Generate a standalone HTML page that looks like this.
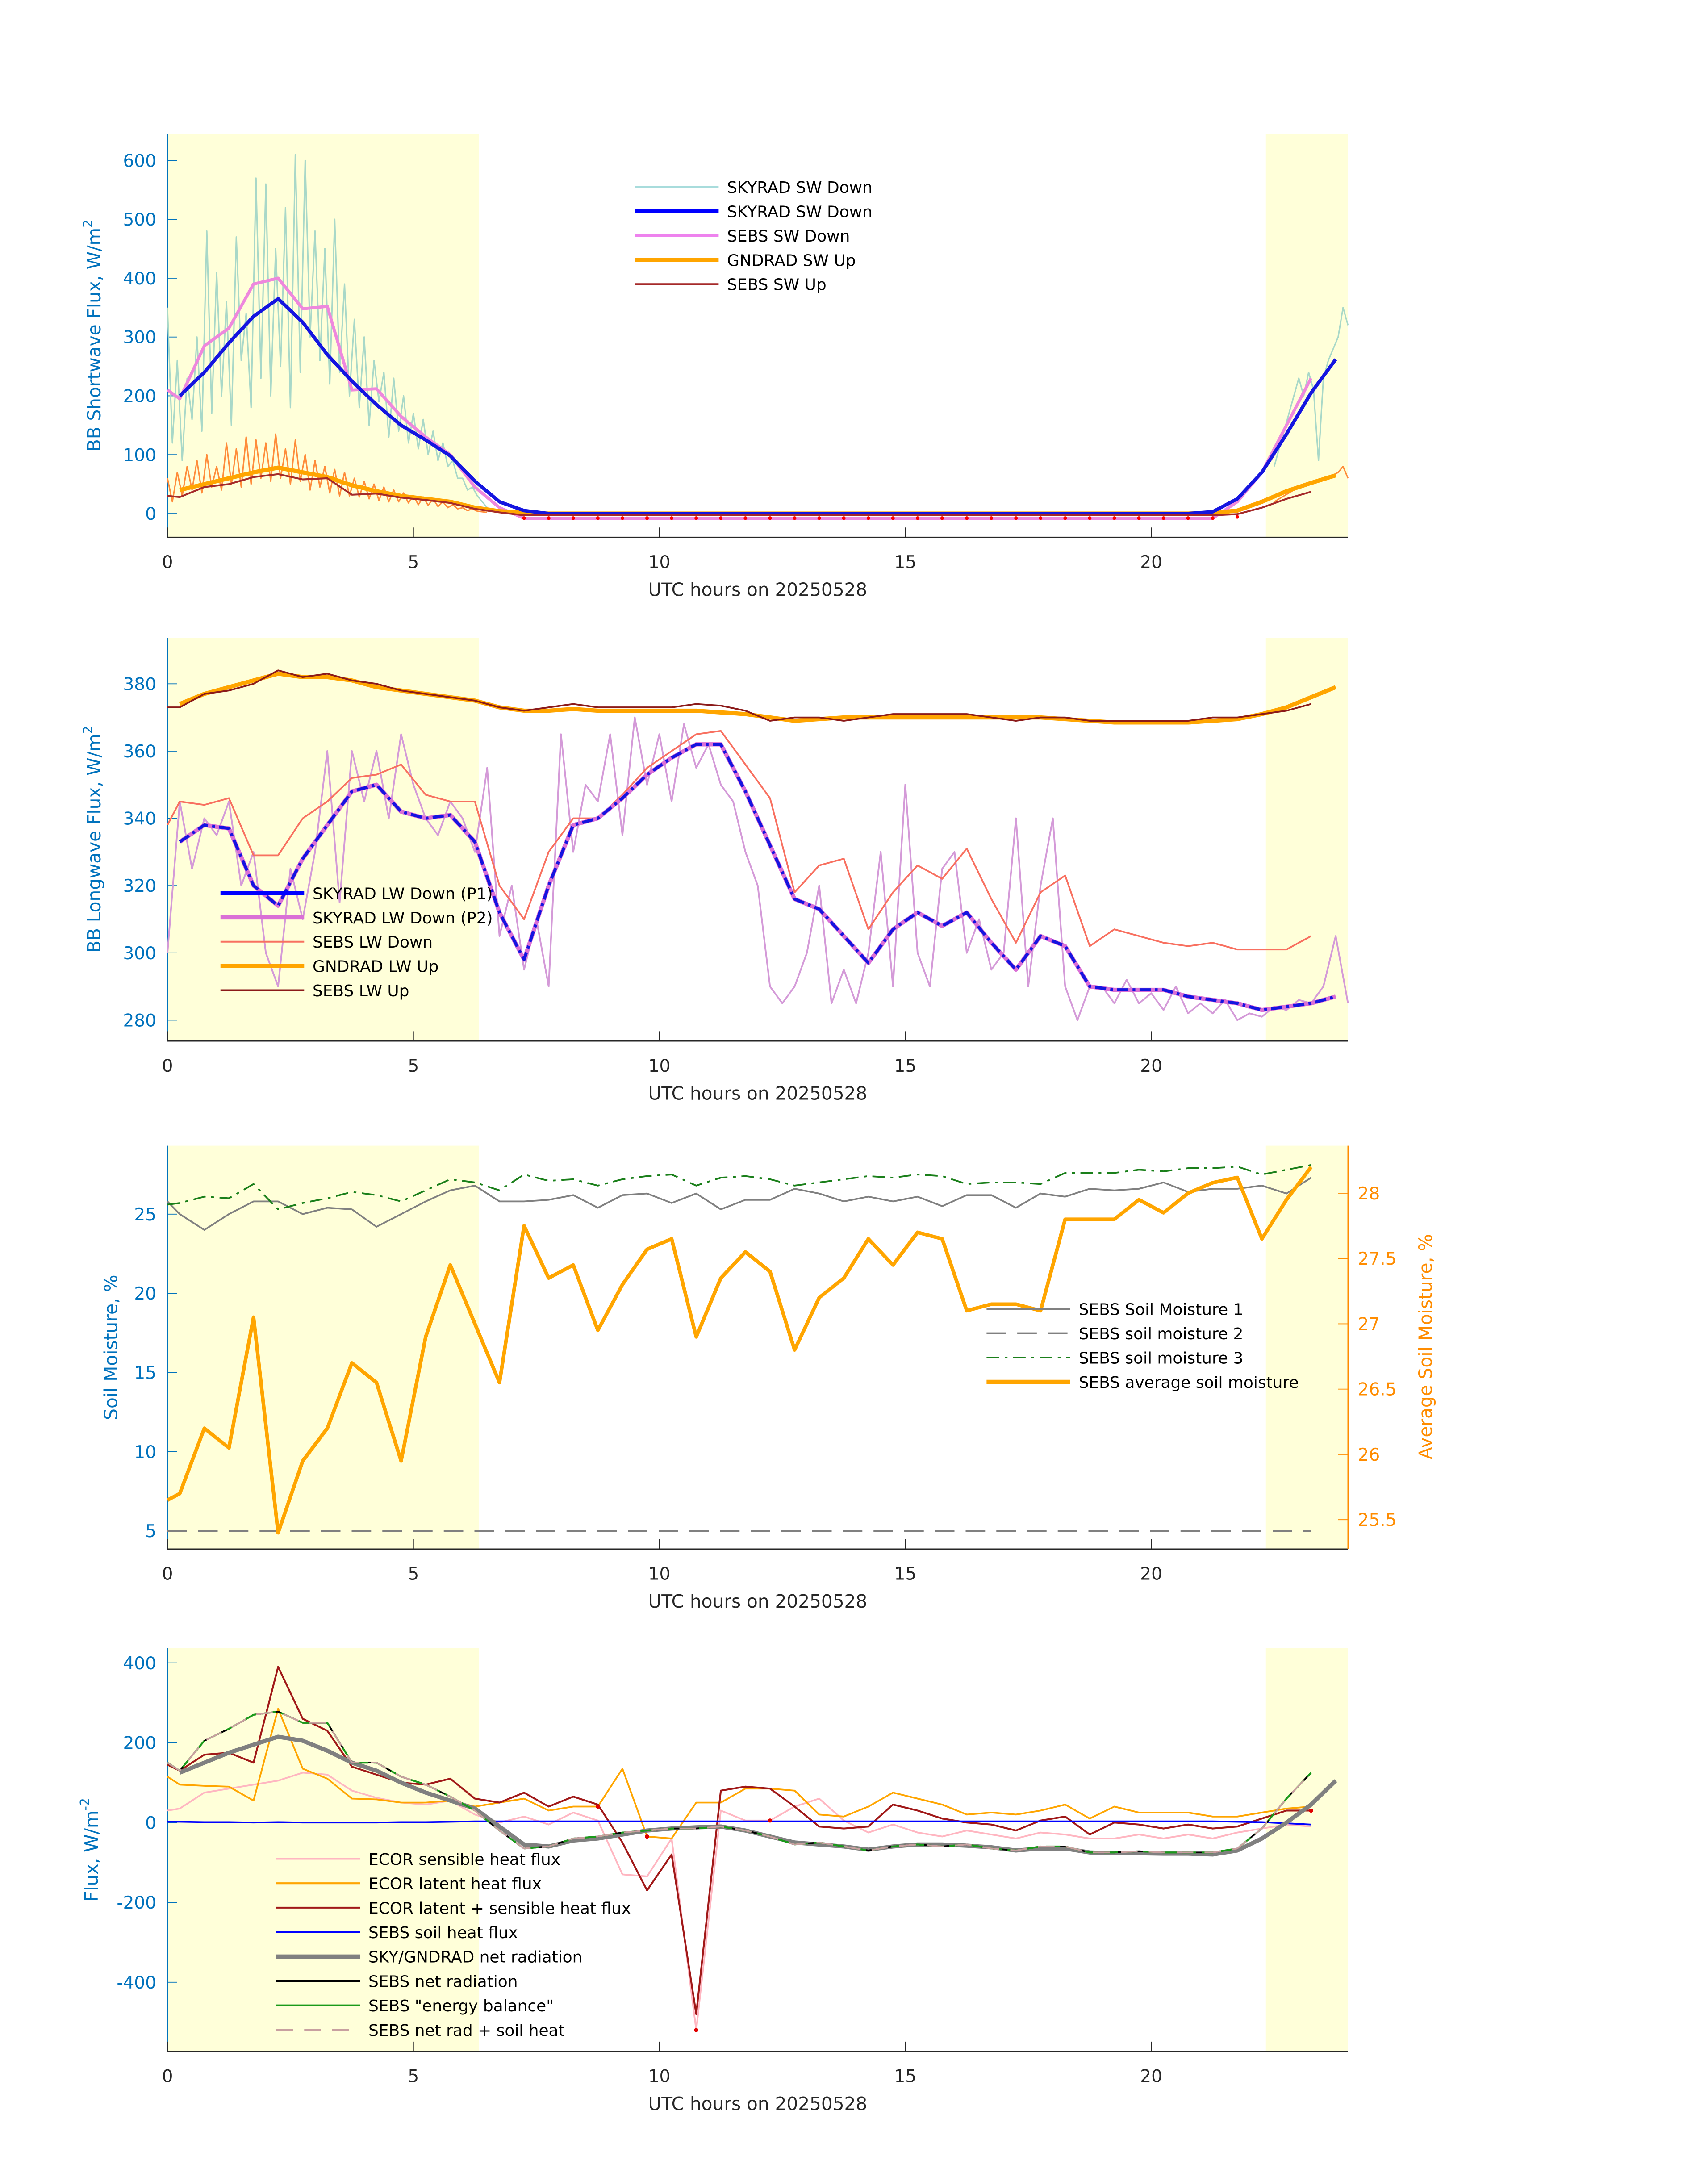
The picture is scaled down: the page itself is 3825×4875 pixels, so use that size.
<!DOCTYPE html>
<html><head><meta charset="utf-8">
<style>
html,body{margin:0;padding:0;background:#fff;}
svg{display:block;font-family:"DejaVu Sans","Liberation Sans",sans-serif;}
</style></head>
<body>
<svg id="chart" width="3825" height="4875" viewBox="0 0 1224 1560" xmlns="http://www.w3.org/2000/svg"></svg>
<script>
// ---------- data ----------
const halfT = [];
for (let k = 0; k < 48; k++) halfT.push(0.25 + 0.5 * k);
const p3T = [0].concat(halfT.slice(0, 47));
const N = null;
// Panel 1
const swDown = [200,240,290,335,365,325,270,225,185,150,125,98,55,20,5,0,0,0,0,0,0,0,0,0,0,0,0,0,0,0,0,0,0,0,0,0,0,0,0,0,0,0,3,25,70,135,205,262];
const sebsSwDown = [195,285,315,390,400,348,352,210,212,165,130,100,45,10,-8,-8,-8,-8,-8,-8,-8,-8,-8,-8,-8,-8,-8,-8,-8,-8,-8,-8,-8,-8,-8,-8,-8,-8,-8,-8,-8,-8,-8,20,70,150,230,N];
const gndSwUp = [40,50,60,70,78,70,62,48,38,30,25,20,10,4,1,0,0,0,0,0,0,0,0,0,0,0,0,0,0,0,0,0,0,0,0,0,0,0,0,0,0,0,1,5,20,38,52,65];
const sebsSwUp = [28,45,50,62,67,58,60,32,34,27,23,18,8,2,-3,-3,-3,-3,-3,-3,-3,-3,-3,-3,-3,-3,-3,-3,-3,-3,-3,-3,-3,-3,-3,-3,-3,-3,-3,-3,-3,-3,-3,-1,10,25,37,N];
const rawSwDown = [350,120,260,90,230,160,300,140,480,170,410,200,360,150,470,260,340,180,570,230,560,200,450,250,520,180,610,240,600,300,480,260,450,220,500,240,390,200,330,180,300,150,260,190,240,130,230,140,200,120,170,110,160,100,140,90,120,80,90,60,60,40,45,30,20,10];
const rawSwDownLate = [80,110,140,170,200,230,200,240,210,90,230,260,280,300,350,320];
const rawSwUp = [60,20,70,30,80,40,90,35,100,45,80,40,120,50,110,45,130,50,125,60,120,55,135,60,110,50,125,55,100,40,90,45,80,35,75,30,70,30,60,28,55,25,50,22,45,20,40,20,35,18,30,15,28,14,25,12,20,10,15,8,10,5,8,4,3,2];
const rawSwUpLate = [20,25,30,35,40,45,50,52,55,58,60,62,65,70,80,60];
// Panel 2
const lwDownP1 = [333,338,337,320,314,328,338,348,350,342,340,341,333,312,298,320,338,340,346,353,358,362,362,348,332,316,313,305,297,307,312,308,312,303,295,305,302,290,289,289,289,287,286,285,283,284,285,287];
const sebsLwDown = [345,344,346,329,329,340,345,352,353,356,347,345,345,320,310,330,340,340,347,355,360,365,366,356,346,318,326,328,307,318,326,322,331,316,303,318,323,302,307,305,303,302,303,301,301,301,305,N];
const gndLwUp = [374,377,379,381,383,382,382,381,379,378,377,376,375,373,372,372,372.5,372,372,372,372,372,371.5,371,370,369,369.5,370,370,370,370,370,370,370,370,370,369.5,369,368.5,368.5,368.5,368.5,369,369.5,371,373,376,379];
const sebsLwUp = [373,377,378,380,384,382,383,381,380,378,377,376,375,373,372,373,374,373,373,373,373,374,373.5,372,369,370,370,369,370,371,371,371,371,370,369,370,370,369,369,369,369,369,370,370,371,372,374,N];
const rawLwDown = [300,345,325,340,335,345,320,330,300,290,325,310,330,360,315,360,345,360,340,365,350,340,335,345,340,330,355,305,320,295,310,290,365,330,350,345,365,335,370,350,365,345,368,355,362,350,345,330,320,290,285,290,300,320,285,295,285,300,330,290,350,300,290,325,330,300,310,295,300,340,290,320,340,290,280,290,290,285,292,285,288,283,290,282,285,282,286,280,282,281,284,283,286,285,290,305,285];
// Panel 3
const sm1 = [25.8,25.0,24.0,25.0,25.8,25.8,25.0,25.4,25.3,24.2,25.0,25.8,26.5,26.8,25.8,25.8,25.9,26.2,25.4,26.2,26.3,25.7,26.3,25.3,25.9,25.9,26.6,26.3,25.8,26.1,25.8,26.1,25.5,26.2,26.2,25.4,26.3,26.1,26.6,26.5,26.6,27.0,26.4,26.6,26.6,26.8,26.3,27.3];
const sm2 = [5,5,5,5,5,5,5,5,5,5,5,5,5,5,5,5,5,5,5,5,5,5,5,5,5,5,5,5,5,5,5,5,5,5,5,5,5,5,5,5,5,5,5,5,5,5,5,5];
const sm3 = [25.6,25.7,26.1,26.0,26.9,25.3,25.7,26.0,26.4,26.2,25.8,26.5,27.2,27.0,26.5,27.5,27.1,27.2,26.8,27.2,27.4,27.5,26.8,27.3,27.4,27.2,26.8,27.0,27.2,27.4,27.3,27.5,27.4,26.9,27.0,27.0,26.9,27.6,27.6,27.6,27.8,27.7,27.9,27.9,28.0,27.5,27.8,28.1];
const smAvg = [25.65,25.7,26.2,26.05,27.05,25.4,25.95,26.2,26.7,26.55,25.95,26.9,27.45,27.0,26.55,27.75,27.35,27.45,26.95,27.3,27.57,27.65,26.9,27.35,27.55,27.4,26.8,27.2,27.35,27.65,27.45,27.7,27.65,27.1,27.15,27.15,27.1,27.8,27.8,27.8,27.95,27.85,28.0,28.08,28.12,27.65,27.95,28.2];
// Panel 4
const ecorSens = [30,35,75,85,95,105,125,120,80,62,50,45,55,20,0,15,-5,25,5,-130,-135,-40,-520,30,5,5,40,60,5,-25,-5,-25,-35,-20,-30,-40,-25,-30,-40,-40,-30,-40,-30,-40,-25,-15,-5,-10];
const ecorLat = [115,95,92,90,55,285,135,110,60,58,50,50,55,40,50,60,30,40,40,135,-35,-40,50,50,85,85,80,20,15,40,75,60,45,20,25,20,30,45,10,40,25,25,25,15,15,25,35,40];
const ecorSum = [145,130,170,175,150,390,260,230,140,120,100,95,110,60,50,75,40,65,45,-50,-170,-80,-480,80,90,85,40,-10,-15,-10,45,30,10,0,-5,-20,5,15,-30,0,-5,-15,-5,-15,-10,10,30,30];
const soilHeat = [2,2,1,1,0,1,0,0,0,0,1,1,2,3,3,3,3,3,3,3,3,3,3,3,3,3,3,3,3,3,3,3,3,3,3,3,3,3,3,3,3,3,3,3,2,1,-2,-5];
const netRadSky = [125,150,175,195,215,205,180,150,130,100,75,55,35,-10,-55,-60,-45,-40,-30,-20,-15,-12,-10,-20,-35,-50,-55,-60,-68,-60,-55,-55,-58,-62,-70,-65,-65,-75,-77,-77,-78,-78,-80,-70,-40,0,45,105];
const netRadSebs = [150,130,205,235,270,278,250,250,150,150,115,95,65,30,-20,-65,-60,-40,-35,-25,-20,-15,-15,-10,-20,-35,-55,-50,-60,-70,-60,-55,-60,-55,-65,-70,-60,-60,-75,-75,-72,-75,-75,-75,-65,-15,60,125];

// ---------- helpers ----------
const svg = document.getElementById('chart');
const NS = 'http://www.w3.org/2000/svg';
function mk(tag, attrs, parent) {
  const e = document.createElementNS(NS, tag);
  for (const k in attrs) e.setAttribute(k, attrs[k]);
  (parent || svg).appendChild(e);
  return e;
}
const X0 = 120, X1 = 966;
function xs(t) { return X0 + t * (X1 - X0) / 24; }
function pathFrom(ts, vs, yf) {
  let d = '', pen = false;
  for (let i = 0; i < vs.length; i++) {
    if (vs[i] === null || vs[i] === undefined) { pen = false; continue; }
    d += (pen ? 'L' : 'M') + xs(ts[i]).toFixed(2) + ',' + yf(vs[i]).toFixed(2);
    pen = true;
  }
  return d;
}
function stepT(t0, dt, n) { const a = []; for (let i = 0; i < n; i++) a.push(t0 + i * dt); return a; }
function line(ts, vs, yf, color, w, name, dash) {
  const p = mk('path', {d: pathFrom(ts, vs, yf), fill: 'none', stroke: color, 'stroke-width': w, 'stroke-linejoin': 'round'});
  if (dash) p.setAttribute('stroke-dasharray', dash);
  
  
  return p;
}
const BLUE = '#0072BD';
function panel(top, bot, yf, ticks, tickFmt, ylabel, pname) {
  const g = mk('g', {});
  
  
  const s1 = mk('rect', {x: X0, y: top, width: xs(6.33) - X0, height: bot - top, fill: '#FFFFD9'}, g);
  
  
  const s2 = mk('rect', {x: xs(22.33), y: top, width: X1 - xs(22.33), height: bot - top, fill: '#FFFFD9'}, g);
  
  
  const la = mk('line', {x1: X0, y1: top, x2: X0, y2: bot, stroke: BLUE, 'stroke-width': 0.8}, g);
  
  
  const ba = mk('line', {x1: X0, y1: bot, x2: X1, y2: bot, stroke: '#262626', 'stroke-width': 0.8}, g);
  
  
  for (const v of ticks) {
    const y = yf(v);
    mk('line', {x1: X0, y1: y, x2: X0 + 7, y2: y, stroke: BLUE, 'stroke-width': 0.6}, g);
    const t = mk('text', {x: X0 - 8, y: y + 4.5, 'text-anchor': 'end', 'font-size': 12.5, fill: BLUE}, g);
    t.textContent = tickFmt(v);
    
    
  }
  for (const h of [0, 5, 10, 15, 20]) {
    mk('line', {x1: xs(h), y1: bot, x2: xs(h), y2: bot - 7, stroke: '#262626', 'stroke-width': 0.6}, g);
    const t = mk('text', {x: xs(h), y: bot + 22, 'text-anchor': 'middle', 'font-size': 12.5, fill: '#262626'}, g);
    t.textContent = String(h);
    
    
  }
  const xl = mk('text', {x: 543, y: bot + 42, 'text-anchor': 'middle', 'font-size': 13, fill: '#262626'}, g);
  xl.textContent = 'UTC hours on 20250528';
  
  
  const cy = (top + bot) / 2;
  const yl = mk('text', {x: 0, y: 0, transform: 'translate(' + ylabel[1] + ',' + cy + ') rotate(-90)', 'text-anchor': 'middle', 'font-size': 13, fill: BLUE}, g);
  yl.innerHTML = ylabel[0];
  
  
  return g;
}
function legend(x, y0, dy, entries, name) {
  const g = mk('g', {});
  
  
  entries.forEach((e, i) => {
    const y = y0 + i * dy;
    const l = mk('line', {x1: x, y1: y, x2: x + 60, y2: y, stroke: e[1], 'stroke-width': e[2]}, g);
    if (e[3]) l.setAttribute('stroke-dasharray', e[3]);
    
    
    const t = mk('text', {x: x + 66, y: y + 4.3, 'font-size': 11.5, fill: '#000'}, g);
    t.textContent = e[0];
    
    
  });
}

// ---------- Panel 1 ----------
const y1 = v => 368 - v * 0.4217;
panel(96, 385, y1, [0,100,200,300,400,500,600], v => String(v), ['BB Shortwave Flux, W/m<tspan dy="-6" font-size="9">2</tspan>', 72], 'shortwave-panel');
line(stepT(0, 0.1, 66), rawSwDown, y1, '#A8D8C8', 1, 'skyrad-sw-down-raw');
line(stepT(22.5, 0.1, 16), rawSwDownLate, y1, '#A8D8C8', 1, 'skyrad-sw-down-raw-late');
line(stepT(0, 0.1, 66), rawSwUp, y1, '#FF8C3A', 1, 'gndrad-sw-up-raw');
line(stepT(22.5, 0.1, 16), rawSwUpLate, y1, '#FF8C3A', 1, 'gndrad-sw-up-raw-late');
line([0].concat(halfT), [210].concat(sebsSwDown), y1, '#EE88DD', 2.2, 'sebs-sw-down');
line(halfT, gndSwUp, y1, '#FFA500', 3, 'gndrad-sw-up');
line(halfT, swDown, y1, '#1515E0', 2.5, 'skyrad-sw-down');
line([0].concat(halfT), [30].concat(sebsSwUp), y1, '#A52A2A', 1.3, 'sebs-sw-up');
halfT.forEach((t, i) => {
  if (sebsSwUp[i] !== null && sebsSwUp[i] < 0) {
    const c = mk('circle', {cx: xs(t), cy: y1(sebsSwUp[i]) + 2, r: 1.3, fill: '#FF0000'});
    
    
  }
});
legend(455, 134, 17.4, [['SKYRAD SW Down','#A8DCDC',1.5],['SKYRAD SW Down','#0000FF',3],['SEBS SW Down','#EE82EE',2],['GNDRAD SW Up','#FFA500',3],['SEBS SW Up','#A52A2A',1.3]], 'shortwave-legend');

// ---------- Panel 2 ----------
const y2 = v => 490 - (v - 380) * 2.41;
panel(457, 746, y2, [280,300,320,340,360,380], v => String(v), ['BB Longwave Flux, W/m<tspan dy="-6" font-size="9">2</tspan>', 72], 'longwave-panel');
line(stepT(0, 0.25, 97), rawLwDown, y2, '#D49AD8', 1.2, 'skyrad-lw-down-raw');
line([0].concat(halfT), [338].concat(sebsLwDown), y2, '#F87060', 1.2, 'sebs-lw-down');
line(halfT, lwDownP1, y2, '#DA70D6', 3, 'skyrad-lw-down-p2');
line(halfT, lwDownP1, y2, '#1515E0', 2.2, 'skyrad-lw-down-p1', '8,3,2,3');
line(halfT, gndLwUp, y2, '#FFA500', 3, 'gndrad-lw-up');
line([0].concat(halfT), [373].concat(sebsLwUp), y2, '#8B1A1A', 1.2, 'sebs-lw-up');
legend(158, 640, 17.4, [['SKYRAD LW Down (P1)','#0000FF',3],['SKYRAD LW Down (P2)','#DA70D6',3],['SEBS LW Down','#F87060',1.3],['GNDRAD LW Up','#FFA500',3],['SEBS LW Up','#8B1A1A',1.3]], 'longwave-legend');

// ---------- Panel 3 ----------
const y3 = v => 870 - (v - 25) * 11.35;
const y3r = v => 855 - (v - 28) * 93.6;
panel(821, 1110, y3, [5,10,15,20,25], v => String(v), ['Soil Moisture, %', 84], 'soil-moisture-panel');
const ra = mk('line', {x1: X1, y1: 821, x2: X1, y2: 1110, stroke: '#FF8C00', 'stroke-width': 0.8});


[25.5,26,26.5,27,27.5,28].forEach(v => {
  mk('line', {x1: X1 - 7, y1: y3r(v), x2: X1, y2: y3r(v), stroke: '#FF8C00', 'stroke-width': 0.6});
  const t = mk('text', {x: X1 + 7, y: y3r(v) + 4.5, 'font-size': 12.5, fill: '#FF8C00'});
  t.textContent = String(v);
  
  
});
const ryl = mk('text', {x: 0, y: 0, transform: 'translate(1026,965) rotate(-90)', 'text-anchor': 'middle', 'font-size': 13, fill: '#FF8C00'});
ryl.textContent = 'Average Soil Moisture, %';


line(p3T, sm2, y3, '#808080', 1.2, 'sebs-soil-moisture-2', '14,8');
line(p3T, sm1, y3, '#808080', 1.2, 'sebs-soil-moisture-1');
line(p3T, sm3, y3, '#1A7F1A', 1.2, 'sebs-soil-moisture-3', '9,4,2,4');
line(p3T, smAvg, y3r, '#FFA500', 2.6, 'sebs-average-soil-moisture');
legend(707, 938, 17.4, [['SEBS Soil Moisture 1','#808080',1.3],['SEBS soil moisture 2','#808080',1.3,'14,8'],['SEBS soil moisture 3','#1A7F1A',1.3,'9,4,2,4'],['SEBS average soil moisture','#FFA500',3]], 'soil-moisture-legend');

// ---------- Panel 4 ----------
const y4 = v => 1306 - v * 0.286;
panel(1181, 1470, y4, [-400,-200,0,200,400], v => String(v), ['Flux, W/m<tspan dy="-6" font-size="9">-2</tspan>', 70], 'surface-flux-panel');
line(p3T, ecorSens, y4, '#FFB6C1', 1.2, 'ecor-sensible-heat-flux');
line(p3T, ecorLat, y4, '#FFA500', 1.2, 'ecor-latent-heat-flux');
line(p3T, ecorSum, y4, '#A01818', 1.3, 'ecor-latent-plus-sensible');
line(p3T, soilHeat, y4, '#0000FF', 1.2, 'sebs-soil-heat-flux');
line(halfT, netRadSky, y4, '#808080', 3, 'sky-gndrad-net-radiation');
line(p3T, netRadSebs, y4, '#000000', 1.2, 'sebs-net-radiation');
line(p3T, netRadSebs, y4, '#1A9A1A', 1.3, 'sebs-energy-balance', '10,4');
line(p3T, netRadSebs, y4, '#C8A0A0', 1.2, 'sebs-net-rad-plus-soil-heat', '12,8');
[[8.75,40],[9.75,-35],[10.75,-520],[12.25,5],[23.25,30]].forEach(p => {
  const c = mk('circle', {cx: xs(p[0]), cy: y4(p[1]), r: 1.5, fill: '#E00000'});
  
  
});
legend(198, 1332, 17.5, [['ECOR sensible heat flux','#FFB6C1',1.3],['ECOR latent heat flux','#FFA500',1.3],['ECOR latent + sensible heat flux','#A01818',1.3],['SEBS soil heat flux','#0000FF',1.3],['SKY/GNDRAD net radiation','#808080',3],['SEBS net radiation','#000000',1.3],['SEBS "energy balance"','#1A9A1A',1.3],['SEBS net rad + soil heat','#C8A0A0',1.3,'12,8']], 'surface-flux-legend');
</script>
</body></html>
